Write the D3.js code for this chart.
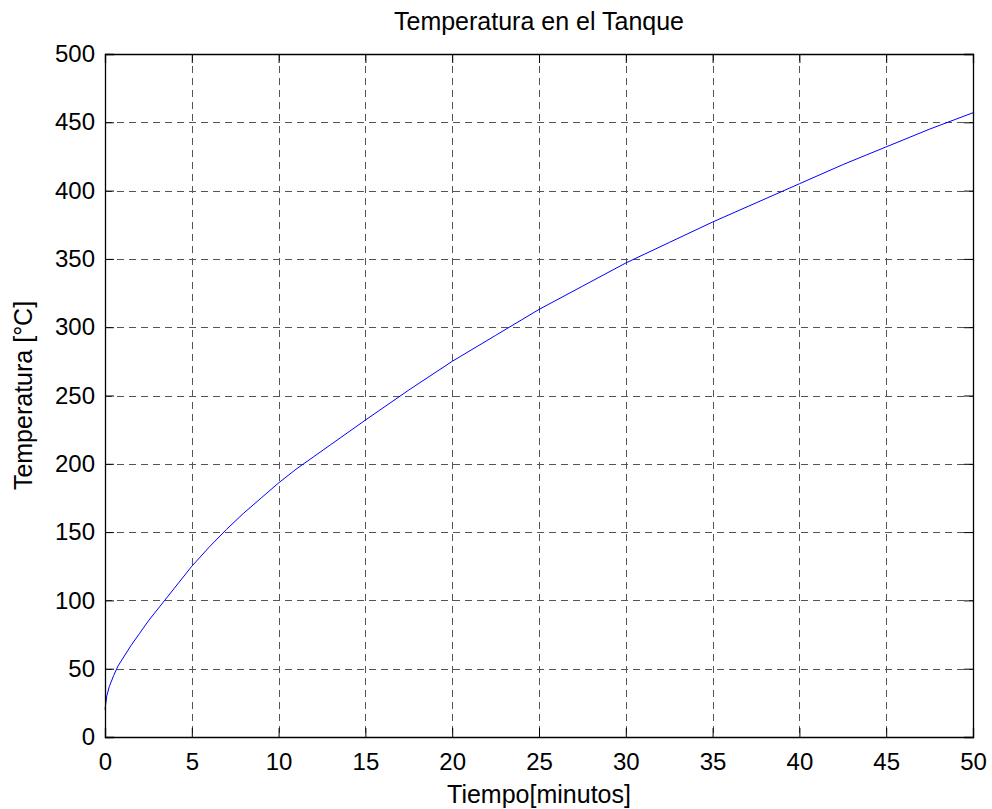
<!DOCTYPE html>
<html>
<head>
<meta charset="utf-8">
<script src="https://cdnjs.cloudflare.com/ajax/libs/d3/7.8.5/d3.min.js"></script>
<style>
  body { margin: 0; background: #fff; }
  text { font-family: "Liberation Sans", Arial, sans-serif; fill: #000; }
</style>
</head>
<body>
<div id="chart"></div>
<script>
// data
var tiempo = [0, 0.1, 0.25, 0.5, 0.75, 1, 1.5, 2, 2.5, 3, 3.5, 4, 4.5, 5, 6, 7, 8, 9, 10, 11, 12, 13, 14, 15,
  17.5, 20, 22.5, 25, 27.5, 30, 32.5, 35, 37.5, 40, 42.5, 45, 47.5, 50];
var temperatura = [20, 30, 37, 45, 52, 57, 67, 76, 85, 93, 101, 109, 117, 125, 139, 152, 164, 175, 186, 196, 205, 214, 223, 232,
  254, 275, 294, 313, 330, 347, 362, 377, 391, 405, 419, 432, 445, 457];
var xTicks = [0, 5, 10, 15, 20, 25, 30, 35, 40, 45, 50];
var yTicks = [0, 50, 100, 150, 200, 250, 300, 350, 400, 450, 500];

var svgWidth = 992;
var svgHeight = 809;
var margin = { top: 54, right: 19, bottom: 72, left: 105 };
var width = svgWidth - margin.left - margin.right;
var height = svgHeight - margin.top - margin.bottom;

var svg = d3.select("#chart")
  .append("svg")
  .attr("width", svgWidth)
  .attr("height", svgHeight);

svg.append("rect")
  .attr("width", svgWidth)
  .attr("height", svgHeight)
  .attr("fill", "#fff");

var chartGroup = svg.append("g")
  .attr("transform", `translate(${margin.left}, ${margin.top})`);

var xScale = d3.scaleLinear().domain([0, 50]).range([0, width]);
var yScale = d3.scaleLinear().domain([0, 500]).range([height, 0]);

// grid
chartGroup.append("g")
  .selectAll("line")
  .data(xTicks)
  .enter()
  .append("line")
  .attr("x1", d => Math.round(xScale(d)) + 0.5)
  .attr("x2", d => Math.round(xScale(d)) + 0.5)
  .attr("y1", 0)
  .attr("y2", height)
  .attr("stroke", "#555")
  .attr("stroke-dasharray", "7,5");

chartGroup.append("g")
  .selectAll("line")
  .data(yTicks)
  .enter()
  .append("line")
  .attr("y1", d => Math.round(yScale(d)) + 0.5)
  .attr("y2", d => Math.round(yScale(d)) + 0.5)
  .attr("x1", 0)
  .attr("x2", width)
  .attr("stroke", "#555")
  .attr("stroke-dasharray", "7,5");

// curve
var line = d3.line()
  .x((d, i) => xScale(tiempo[i]))
  .y(d => yScale(d));

chartGroup.append("path")
  .datum(temperatura)
  .attr("d", line)
  .attr("fill", "none")
  .attr("stroke", "#0000ff")
  .attr("stroke-width", 1);

// axes, ticks inward on all four sides
var bottomAxis = d3.axisBottom(xScale).tickValues(xTicks).tickSize(-9).tickPadding(16);
var leftAxis = d3.axisLeft(yScale).tickValues(yTicks).tickSize(-9).tickPadding(10);
var topAxis = d3.axisTop(xScale).tickValues(xTicks).tickSize(-9).tickFormat("");
var rightAxis = d3.axisRight(yScale).tickValues(yTicks).tickSize(-9).tickFormat("");

var xAxis = chartGroup.append("g")
  .attr("transform", `translate(0, ${height})`)
  .call(bottomAxis);
var yAxis = chartGroup.append("g").call(leftAxis);
chartGroup.append("g").call(topAxis);
chartGroup.append("g").attr("transform", `translate(${width}, 0)`).call(rightAxis);

chartGroup.selectAll(".domain").attr("stroke", "#000").attr("stroke-width", 1.3);
chartGroup.selectAll(".tick line").attr("stroke", "#000");
chartGroup.selectAll(".tick text")
  .style("font-family", "Liberation Sans, Arial, sans-serif")
  .style("font-size", "24px")
  .attr("fill", "#000");

// labels
svg.append("text")
  .attr("x", margin.left + width / 2)
  .attr("y", 30)
  .attr("text-anchor", "middle")
  .style("font-size", "25px")
  .text("Temperatura en el Tanque");

svg.append("text")
  .attr("x", margin.left + width / 2)
  .attr("y", 803)
  .attr("text-anchor", "middle")
  .style("font-size", "25px")
  .text("Tiempo[minutos]");

svg.append("text")
  .attr("transform", `translate(32, ${margin.top + height / 2}) rotate(-90)`)
  .attr("text-anchor", "middle")
  .style("font-size", "25px")
  .text("Temperatura [°C]");
</script>
</body>
</html>
